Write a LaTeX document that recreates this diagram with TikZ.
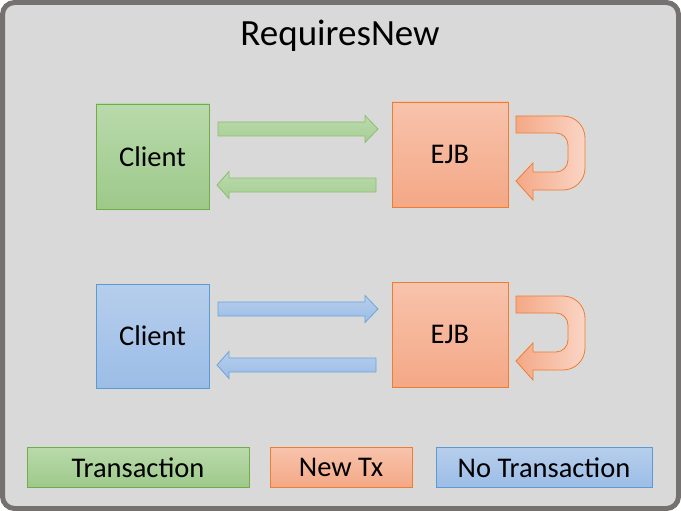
\documentclass[tikz,border=0pt]{standalone}
\usepackage{fontspec}
\setmainfont{Carlito}
\usetikzlibrary{calc}
\definecolor{bg}{HTML}{D9D9D9}
\definecolor{frame}{HTML}{767171}
\definecolor{gtop}{HTML}{B9DAAB}
\definecolor{gbot}{HTML}{9DC98A}
\definecolor{gline}{HTML}{70AD47}
\definecolor{otop}{HTML}{F8C3AC}
\definecolor{obot}{HTML}{F4A886}
\definecolor{oline}{HTML}{ED7D31}
\definecolor{btop}{HTML}{B6CEEC}
\definecolor{bbot}{HTML}{9CBDE7}
\definecolor{bline}{HTML}{5B9BD5}
\tikzset{
  box/.style={draw, line width=0.8pt, inner sep=0pt, font=\fontsize{28.5}{32}\selectfont, text=black},
  gbox/.style={box, draw=gline, top color=gtop, bottom color=gbot},
  obox/.style={box, draw=oline, top color=otop, bottom color=obot},
  bbox/.style={box, draw=bline, top color=btop, bottom color=bbot},
  garrow/.style={draw=gline!80!white, line width=0.8pt, top color=gtop, bottom color=gbot!90!white},
  barrow/.style={draw=bline!90!white, line width=0.8pt, top color=btop, bottom color=bbot},
  uarrow/.style={draw=oline, line width=0.8pt, left color=obot, right color=otop!70!white},
}
% right-pointing block arrow: tail x, tip x, centre y
\newcommand\rblock[4]{\path[#4] (#1,#3-7) -- (#2-13,#3-7) -- (#2-13,#3-13.5) -- (#2,#3) -- (#2-13,#3+13.5) -- (#2-13,#3+7) -- (#1,#3+7) -- cycle;}
% left-pointing block arrow: tail x, tip x, centre y
\newcommand\lblock[4]{\path[#4] (#1,#3-7) -- (#2+12,#3-7) -- (#2+12,#3-13.5) -- (#2,#3) -- (#2+12,#3+13.5) -- (#2+12,#3+7) -- (#1,#3+7) -- cycle;}
% U-turn arrow, vertical offset
\newcommand\uturn[1]{\path[uarrow] (516,116+#1) -- (563,116+#1) .. controls (575.2,116+#1) and (585,125.8+#1) .. (585,138+#1) -- (585,168+#1) .. controls (585,180.2+#1) and (575.2,190+#1) .. (563,190+#1) -- (533,190+#1) -- (533,200+#1) -- (516,181+#1) -- (533,163+#1) -- (533,172+#1) -- (556,172+#1) .. controls (562.6,172+#1) and (568,166.6+#1) .. (568,160+#1) -- (568,145+#1) .. controls (568,138.4+#1) and (562.6,133+#1) .. (556,133+#1) -- (516,133+#1) -- cycle;}
\begin{document}
\begin{tikzpicture}[x=1pt,y=-1pt]
\useasboundingbox (0,0) rectangle (681,511);
\draw[frame, line width=5pt, fill=bg, rounded corners=12pt] (2.5,2.5) rectangle (678.5,508.5);
\node[font=\fontsize{37}{42}\selectfont, text=black] (title) at (340,36) {RequiresNew};
% top row
\node[gbox, minimum width=113pt, minimum height=105pt] (c1) at (152.5,156.5) {Client};
\node[obox, minimum width=116pt, minimum height=105pt] (e1) at (450,154.5) {EJB};
\rblock{218}{378}{129}{garrow}
\lblock{376}{217}{185}{garrow}
\uturn{0}
% bottom row
\node[bbox, minimum width=113pt, minimum height=104pt] (c2) at (152.5,336) {Client};
\node[obox, minimum width=116pt, minimum height=105pt] (e2) at (450,334.5) {EJB};
\rblock{218}{378}{309}{barrow}
\lblock{376}{217}{365}{barrow}
\uturn{180}
% legend
\node[gbox, minimum width=222pt, minimum height=40pt] (l1) at (138,467.5) {Transaction};
\node[obox, minimum width=142pt, minimum height=40pt] (l2) at (341,467.5) {New Tx};
\node[bbox, minimum width=216pt, minimum height=40pt] (l3) at (544,467.5) {No Transaction};
\end{tikzpicture}
\end{document}
